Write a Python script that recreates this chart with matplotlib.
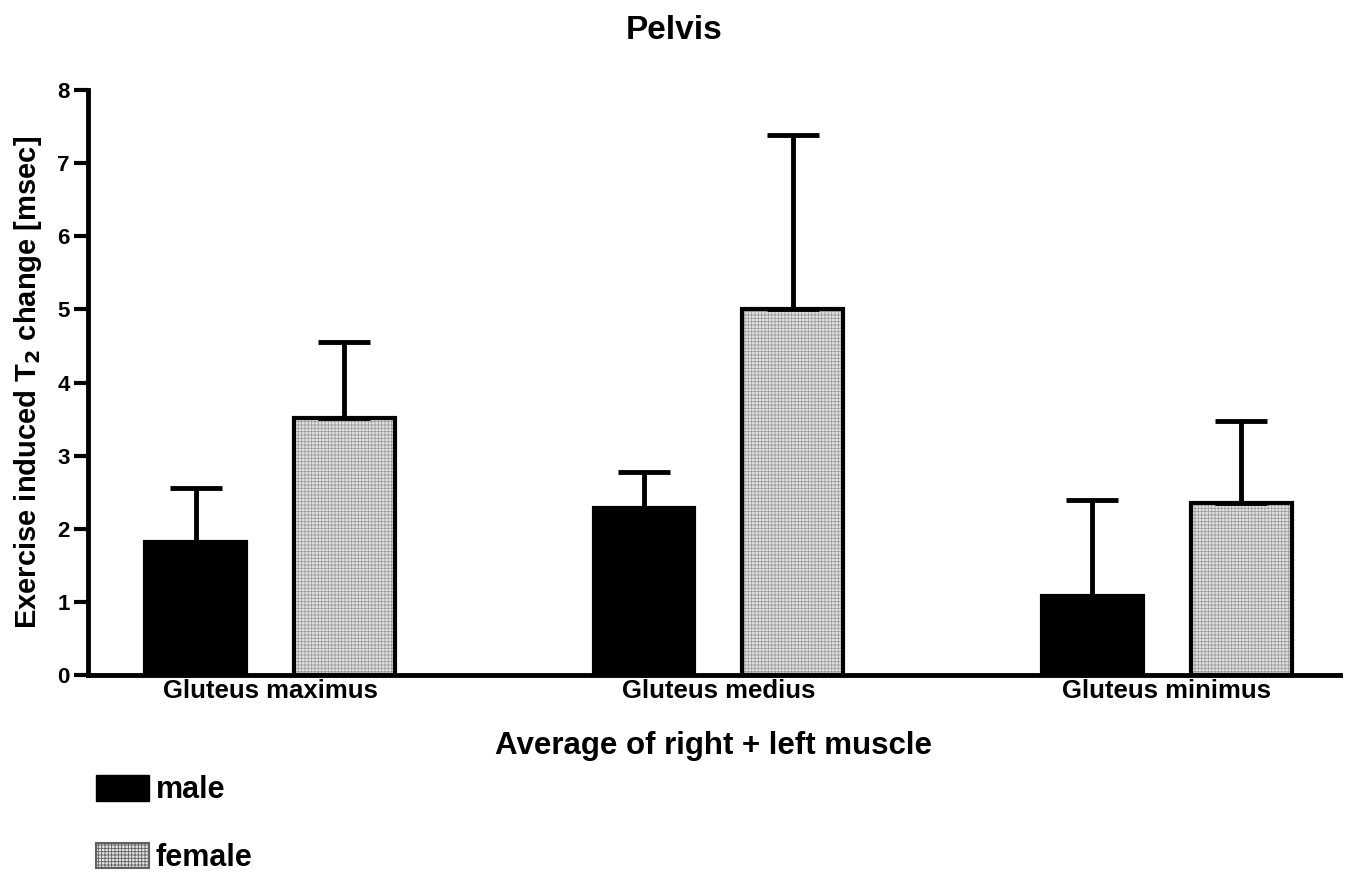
import matplotlib.pyplot as plt
import numpy as np
from matplotlib.patches import Patch

plt.rcParams["font.family"] = ["Liberation Sans", "DejaVu Sans"]
plt.rcParams["font.weight"] = "bold"
plt.rcParams["hatch.linewidth"] = 0.6

muscles = ["Gluteus maximus", "Gluteus medius", "Gluteus minimus"]
male_mean = [1.82, 2.28, 1.08]
male_err = [0.74, 0.49, 1.31]
female_mean = [3.52, 5.00, 2.35]
female_err = [1.04, 2.38, 1.12]

x = np.arange(len(muscles))
width = 0.225
offset = 0.166
female_face = "#e4e4e4"
female_hatch = "#9c9c9c"

fig = plt.figure(figsize=(13.48, 8.75), dpi=100)
ax = fig.add_axes([0.0653, 0.2286, 0.9287, 0.6684])

err_kw = dict(elinewidth=3.5, capsize=19, capthick=3.5, ecolor="black")
ax.bar(x - offset, male_mean, width, color="black", edgecolor="black", linewidth=3,
       yerr=[np.zeros(3), male_err], error_kw=err_kw, zorder=2)
# hatched fill first, then the outline with the error bars
ax.bar(x + offset, female_mean, width, facecolor=female_face, edgecolor=female_hatch,
       hatch="+++++", linewidth=0, zorder=2)
ax.bar(x + offset, female_mean, width, facecolor="none", edgecolor="black", linewidth=3,
       yerr=[np.zeros(3), female_err], error_kw=err_kw, zorder=3)

ax.set_xlim(-0.406, 2.386)
ax.set_ylim(0, 8)
ax.set_yticks(range(0, 9))
ax.tick_params(axis="y", length=10, width=3, labelsize=16, pad=3)
ax.set_xticks(x)
ax.set_xticklabels(muscles, fontsize=18.5, fontweight="bold")
ax.tick_params(axis="x", length=0, pad=3)
for s in ("top", "right"):
    ax.spines[s].set_visible(False)
for s in ("left", "bottom"):
    ax.spines[s].set_linewidth(3.5)

ax.set_ylabel("Exercise induced T$_\\mathbf{2}$ change [msec]", fontsize=21,
              fontweight="bold", labelpad=10)
ax.set_xlabel("Average of right + left muscle", fontsize=22.5, fontweight="bold", labelpad=20)
fig.suptitle("Pelvis", fontsize=24, fontweight="bold", y=0.983)

handles = [Patch(facecolor="black", edgecolor="black", label="male"),
           Patch(facecolor=female_face, edgecolor="#606060", linewidth=1.5, hatch="+++++",
                 label="female")]
fig.legend(handles=handles, loc="upper left", bbox_to_anchor=(0.062, 0.128),
           frameon=False, fontsize=22, handlelength=1.75, handleheight=0.9,
           labelspacing=1.22, handletextpad=0.2, borderaxespad=0)

fig.savefig("out.png", dpi=100)
